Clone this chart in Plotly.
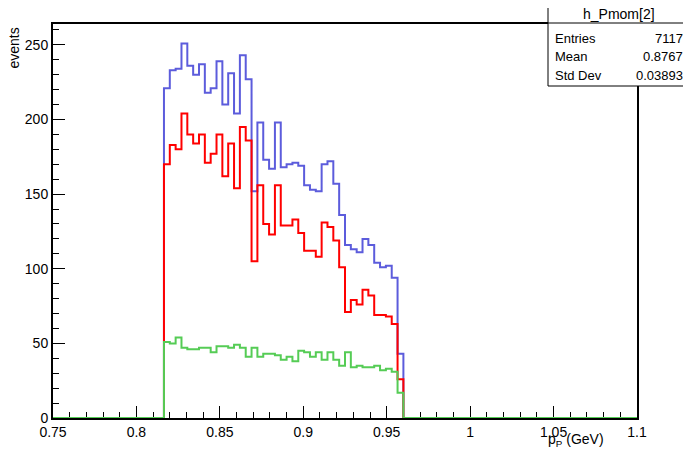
import plotly.graph_objects as go

# Histogram binning (ROOT TH1: 100 bins from 0.75 to 1.1)
x_lo, x_hi, n_bins = 0.75, 1.1, 100
first_bin = 19  # index of first non-empty bin

# bin contents for the non-empty bins (0.8165 ... 0.96)
total_vals = [221, 233, 234, 251, 236, 230, 237, 218, 221, 239, 210, 231, 204, 243, 227, 152, 198, 173, 167, 198,
              168, 170, 171, 169, 156, 153, 152, 170, 172, 157, 136, 116, 113, 111, 120, 116, 104, 101, 102, 94, 43]
red_vals = [170, 183, 180, 204, 190, 184, 190, 171, 177, 190, 162, 184, 154, 195, 186, 105, 156, 130, 123, 156,
            129, 129, 133, 124, 112, 112, 108, 131, 128, 119, 101, 71, 79, 76, 86, 82, 69, 69, 68, 63, 26]
green_vals = [51, 50, 54, 47, 46, 46, 47, 47, 44, 48, 48, 47, 49, 47, 41, 47, 41, 43, 43, 42,
              39, 41, 38, 45, 44, 41, 44, 39, 44, 39, 35, 44, 34, 35, 34, 34, 35, 32, 33, 31, 17]

x_tick_vals = [0.75, 0.8, 0.85, 0.9, 0.95, 1.0, 1.05, 1.1]
x_tick_text = ["0.75", "0.8", "0.85", "0.9", "0.95", "1", "1.05", "1.1"]
y_tick_vals = [0, 50, 100, 150, 200, 250]
y_tick_text = ["0", "50", "100", "150", "200", "250"]

stats_name = "h_Pmom[2]"
stats_rows = [("Entries", "7117"), ("Mean", "0.8767"), ("Std Dev", "0.03893")]

width = (x_hi - x_lo) / n_bins
edges = [x_lo + i * width for i in range(n_bins + 1)]


def full_contents(vals):
    c = [0] * n_bins
    for i, v in enumerate(vals):
        c[first_bin + i] = v
    return c + [c[-1]]


FONT = "Liberation Sans, Arial, Helvetica, sans-serif"

fig = go.Figure()
for vals, col in [(total_vals, "#5c5cdc"), (red_vals, "#ff0000"), (green_vals, "#55cc55")]:
    fig.add_trace(go.Scatter(x=edges, y=full_contents(vals), mode="lines",
                             line=dict(shape="hv", color=col, width=2),
                             hoverinfo="skip", showlegend=False))

# page geometry (the page body has an 8px margin)
OFF = 8
W, H = 691, 456
L, R, T, B = 53, 637, 24, 418   # frame in page pixels


def px(x):
    return (x - L) / (R - L)


def py(y):
    return (B - y) / (B - T)


fig.update_layout(
    width=W - OFF, height=H - OFF,
    margin=dict(l=L - OFF, r=W - R, t=T - OFF, b=H - B, pad=0),
    paper_bgcolor="white", plot_bgcolor="white",
    font=dict(family=FONT, size=14, color="black"),
    xaxis=dict(range=[x_lo, x_hi], tickvals=x_tick_vals, ticktext=x_tick_text,
               ticks="inside", ticklen=12, tickwidth=1, tickcolor="black",
               minor=dict(dtick=0.01, tick0=0.75, ticks="inside", ticklen=6, tickcolor="black", tickwidth=1),
               showline=True, linecolor="black", linewidth=2, mirror=True,
               showgrid=False, zeroline=False, layer="below traces",
               tickfont=dict(size=14)),
    yaxis=dict(range=[0, 264], tickvals=y_tick_vals, ticktext=y_tick_text,
               ticks="inside", ticklen=12, tickwidth=1, tickcolor="black",
               minor=dict(dtick=10, tick0=0, ticks="inside", ticklen=6, tickcolor="black", tickwidth=1),
               showline=True, linecolor="black", linewidth=2, mirror=True,
               showgrid=False, zeroline=False, layer="below traces",
               tickfont=dict(size=14)),
)

# stats box
bx0, bx1, by0, by1, bsep = 548, 689, 5, 86, 23
fig.add_shape(type="rect", xref="paper", yref="paper",
              x0=px(bx0), x1=px(bx1), y0=py(by1), y1=py(by0),
              line=dict(color="black", width=1), fillcolor="white", layer="above")
fig.add_shape(type="line", xref="paper", yref="paper",
              x0=px(bx0), x1=px(bx1), y0=py(bsep), y1=py(bsep),
              line=dict(color="black", width=1), layer="above")
fig.add_annotation(xref="paper", yref="paper", x=px((bx0 + bx1) / 2), y=py(14),
                   text=stats_name, showarrow=False, xanchor="center", yanchor="middle",
                   font=dict(size=14, family=FONT))
for i, (k, v) in enumerate(stats_rows):
    yy = py(39 + 18 * i)
    fig.add_annotation(xref="paper", yref="paper", x=px(bx0 + 5), y=yy, text=k,
                       showarrow=False, xanchor="left", yanchor="middle", font=dict(size=13, family=FONT))
    fig.add_annotation(xref="paper", yref="paper", x=px(bx1 - 4), y=yy, text=v,
                       showarrow=False, xanchor="right", yanchor="middle", font=dict(size=13, family=FONT))

# axis titles
fig.add_annotation(xref="paper", yref="paper", x=px(606), y=py(440),
                   text="p<sub>P</sub> (GeV)", showarrow=False, xanchor="right", yanchor="middle",
                   font=dict(size=14, family=FONT))
fig.add_annotation(xref="paper", yref="paper", x=px(13), y=py(26),
                   text="events", textangle=-90, showarrow=False, xanchor="center", yanchor="top",
                   font=dict(size=14, family=FONT))

fig.write_html("out.html")
